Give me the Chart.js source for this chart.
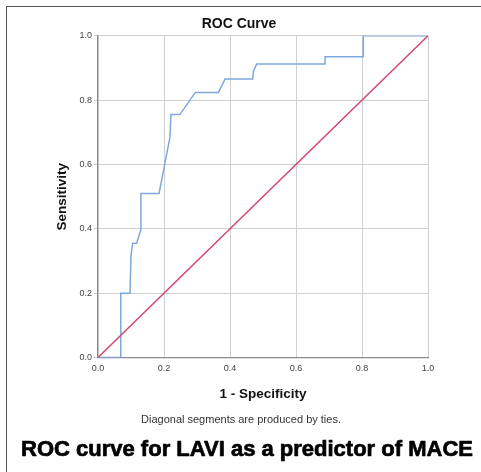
<!DOCTYPE html>
<html>
<head>
<meta charset="utf-8">
<script src="https://cdn.jsdelivr.net/npm/chart.js"></script>
<style>
  html, body { margin: 0; padding: 0; background: #fff; }
  #wrap { position: relative; width: 481px; height: 472px; }
  #frame { position: absolute; left: 6px; top: 6px; right: -2px; bottom: -2px;
           border-left: 1.5px solid #555; border-top: 1.5px solid #555; pointer-events: none; }
  canvas { position: absolute; left: 0; top: 0; }
</style>
</head>
<body>
<div id="wrap">
  <canvas id="rocChart" width="481" height="472"></canvas>
  <div id="frame"></div>
</div>
<script>
// ROC curve for LAVI (1 - Specificity vs Sensitivity)
const fpr = [0, 0.069, 0.069, 0.097, 0.100, 0.105, 0.117, 0.130, 0.130, 0.185, 0.218, 0.221, 0.248, 0.295, 0.365, 0.385, 0.469, 0.471, 0.481, 0.688, 0.688, 0.804, 0.804, 1.0];
const tpr = [0, 0, 0.200, 0.200, 0.317, 0.355, 0.355, 0.397, 0.510, 0.510, 0.684, 0.755, 0.755, 0.824, 0.824, 0.866, 0.866, 0.891, 0.912, 0.912, 0.935, 0.935, 1.0, 1.0];
const refX = [0, 1];
const refY = [0, 1];
const tickValues = [0, 0.2, 0.4, 0.6, 0.8, 1.0];

const titleText = 'ROC Curve';
const xTitle = '1 - Specificity';
const yTitle = 'Sensitivity';
const footnote = 'Diagonal segments are produced by ties.';
const caption = 'ROC curve for LAVI as a predictor of MACE';

const FONT = "'Liberation Sans', Arial, sans-serif";

function toPoints(xs, ys) {
    return xs.map((x, i) => ({ x: x, y: ys[i] }));
}

// footnote + figure caption under the chart
const bottomText = {
    id: 'bottomText',
    afterDraw(chart) {
        const ctx = chart.ctx;
        ctx.save();
        ctx.textAlign = 'center';
        ctx.textBaseline = 'middle';
        ctx.fillStyle = '#333';
        ctx.font = '11px ' + FONT;
        ctx.fillText(footnote, 241, 420);
        // caption is very heavy in the original, thicken it a bit
        ctx.fillStyle = '#000';
        ctx.strokeStyle = '#000';
        ctx.lineWidth = 0.7;
        ctx.lineJoin = 'round';
        ctx.font = 'bold 22px ' + FONT;
        ctx.fillText(caption, 247, 450);
        ctx.strokeText(caption, 247, 450);
        ctx.restore();
    }
};

new Chart(document.getElementById('rocChart'), {
    type: 'scatter',
    data: {
        datasets: [{
            label: 'LAVI',
            data: toPoints(fpr, tpr),
            showLine: true,
            borderColor: '#7fa8dd',
            borderWidth: 1.5,
            pointRadius: 0,
            tension: 0,
            order: 2
        }, {
            label: 'Reference',
            data: toPoints(refX, refY),
            showLine: true,
            borderColor: '#d5456b',
            borderWidth: 1.5,
            pointRadius: 0,
            order: 1
        }]
    },
    options: {
        responsive: false,
        animation: false,
        layout: {
            padding: { left: 50, right: 53, top: 14, bottom: 70 }
        },
        plugins: {
            legend: { display: false },
            tooltip: { enabled: false },
            title: {
                display: true,
                text: titleText,
                color: '#111',
                font: { family: FONT, size: 14, weight: 'bold' },
                padding: { top: 2, bottom: 3 }
            }
        },
        scales: {
            x: {
                type: 'linear',
                min: 0,
                max: 1,
                afterBuildTicks(scale) {
                    scale.ticks = tickValues.map(v => ({ value: v }));
                },
                afterFit(scale) {
                    scale.height = 44.5;
                },
                ticks: {
                    color: '#444',
                    font: { family: FONT, size: 9 },
                    padding: 6,
                    maxRotation: 0,
                    callback: v => v.toFixed(1)
                },
                grid: { color: '#cfcfcf', lineWidth: 1, drawTicks: false },
                border: { color: '#8c8c8c', width: 1.2 },
                title: {
                    display: true,
                    text: xTitle,
                    color: '#111',
                    font: { family: FONT, size: 13.5, weight: 'bold' },
                    padding: { top: 0, bottom: 0 }
                }
            },
            y: {
                type: 'linear',
                min: 0,
                max: 1,
                afterBuildTicks(scale) {
                    scale.ticks = tickValues.map(v => ({ value: v }));
                },
                afterFit(scale) {
                    scale.width = 48;
                },
                ticks: {
                    color: '#444',
                    font: { family: FONT, size: 9 },
                    padding: 2,
                    callback: v => v.toFixed(1)
                },
                grid: { color: '#cfcfcf', lineWidth: 1, tickLength: 4 },
                border: { color: '#8c8c8c', width: 1.2 },
                title: {
                    display: true,
                    text: yTitle,
                    color: '#111',
                    font: { family: FONT, size: 13.5, weight: 'bold' },
                    padding: { top: 4, bottom: 0 }
                }
            }
        }
    },
    plugins: [bottomText]
});
</script>
</body>
</html>
